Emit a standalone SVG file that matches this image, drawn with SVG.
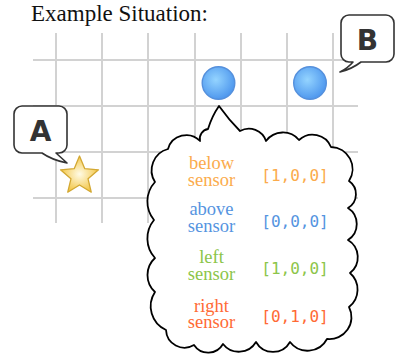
<svg xmlns="http://www.w3.org/2000/svg" width="401" height="360" viewBox="0 0 401 360">
<defs>
<radialGradient id="gBlue" cx="0.42" cy="0.4" r="0.6">
<stop offset="0" stop-color="#94d4ff"/>
<stop offset="1" stop-color="#4f98ee"/>
</radialGradient>
<radialGradient id="gStar" cx="0.5" cy="0.5" r="0.55">
<stop offset="0" stop-color="#fffbe6"/>
<stop offset="1" stop-color="#f2c23a"/>
</radialGradient>
<style>
.grid line{stroke:#d2d2d2;stroke-width:2}
.ball{fill:url(#gBlue);stroke:#5590dc;stroke-width:1.4}
.callout{fill:#fff;stroke:#333;stroke-width:1.6;stroke-linejoin:round}
.letter{font-family:"DejaVu Sans",sans-serif;font-weight:bold;font-size:28px;fill:#333;text-anchor:middle}
.lbl{font-family:"Liberation Serif",serif;font-size:18.5px;text-anchor:middle}
.val{font-family:"DejaVu Sans Mono",monospace;font-size:16px;text-anchor:middle}
</style>
</defs>
<rect width="401" height="360" fill="#fff"/>
<text x="31" y="20.5" font-family="Liberation Serif, serif" font-size="23" fill="#111">Example Situation:</text>
<g id="grid" class="grid">
<line x1="56" y1="33" x2="56" y2="223"/>
<line x1="102" y1="33" x2="102" y2="223"/>
<line x1="148" y1="33" x2="148" y2="223"/>
<line x1="195" y1="33" x2="195" y2="223"/>
<line x1="241" y1="33" x2="241" y2="223"/>
<line x1="287" y1="33" x2="287" y2="223"/>
<line x1="333" y1="33" x2="333" y2="223"/>
<line x1="33" y1="60" x2="358" y2="60"/>
<line x1="33" y1="106" x2="358" y2="106"/>
<line x1="33" y1="152" x2="358" y2="152"/>
<line x1="33" y1="198" x2="358" y2="198"/>
</g>
<g id="ball1"><circle class="ball" cx="218.5" cy="83" r="16.3"/></g>
<g id="ball2"><circle class="ball" cx="310" cy="83" r="16.3"/></g>
<g id="star"><polygon points="79.5,156 84.79,168.72 98.52,169.82 88.06,178.78 91.26,192.18 79.5,185 67.74,192.18 70.94,178.78 60.48,169.82 74.21,168.72" fill="url(#gStar)" stroke="#d3a832" stroke-width="1.3" stroke-linejoin="round"/></g>
<g id="calloutA">
<path class="callout" d="M22,106 H59 A8,8 0 0 1 67,114 V145 A8,8 0 0 1 59,153 H56 L67,163 Q52,160 42,153 H22 A8,8 0 0 1 14,145 V114 A8,8 0 0 1 22,106 Z"/>
<text class="letter" x="40.5" y="140.5">A</text>
</g>
<g id="calloutB">
<path class="callout" d="M349,15 H386 A8,8 0 0 1 394,23 V54 A8,8 0 0 1 386,62 H361 Q352,69 340,72 Q348,68 353,62 H349 A8,8 0 0 1 341,54 V23 A8,8 0 0 1 349,15 Z"/>
<text class="letter" x="367.5" y="50">B</text>
</g>
<g id="cloud">
<path fill="#fff" stroke="#000" stroke-width="1.8" stroke-linejoin="round" d="M240,131 A18,18 0 0 1 266,141 A21,21 0 0 1 299,140 A20,20 0 0 1 331,147 A22,22 0 0 1 349,181 A16,16 0 0 1 348,208 A19,19 0 0 1 348,240 A20,20 0 0 1 350,273 A22,22 0 0 1 349,307 A22,22 0 0 1 327,339 A22,22 0 0 1 290,342 A19.5,19.5 0 0 1 256,342 A20,20 0 0 1 223,344 A17,17 0 0 1 194,345 A18.5,18.5 0 0 1 166,330 A26,26 0 0 1 155,292 A23,23 0 0 1 155,258 A29,29 0 0 1 154,220 A29,29 0 0 1 155,182 A22,22 0 0 1 168,149 A19,19 0 0 1 200,141 A10,10 0 0 1 208,129 Q212,116 219,106 Q229,120 240,131 Z"/>
<g class="lbl">
<text fill="#fbab4c"><tspan x="211.5" y="169.3">below</tspan><tspan x="211.5" y="186">sensor</tspan></text>
<text fill="#5594df"><tspan x="211.5" y="215">above</tspan><tspan x="211.5" y="231.7">sensor</tspan></text>
<text fill="#8cc54a"><tspan x="211.5" y="262.7">left</tspan><tspan x="211.5" y="280">sensor</tspan></text>
<text fill="#ff6a35"><tspan x="211.5" y="311.7">right</tspan><tspan x="211.5" y="328.3">sensor</tspan></text>
</g>
<g class="val">
<text x="295" y="180.5" fill="#fbab4c">[1,0,0]</text>
<text x="295" y="226.7" fill="#5594df">[0,0,0]</text>
<text x="295" y="274" fill="#8cc54a">[1,0,0]</text>
<text x="295" y="321.7" fill="#ff6a35">[0,1,0]</text>
</g>
</g>
</svg>
